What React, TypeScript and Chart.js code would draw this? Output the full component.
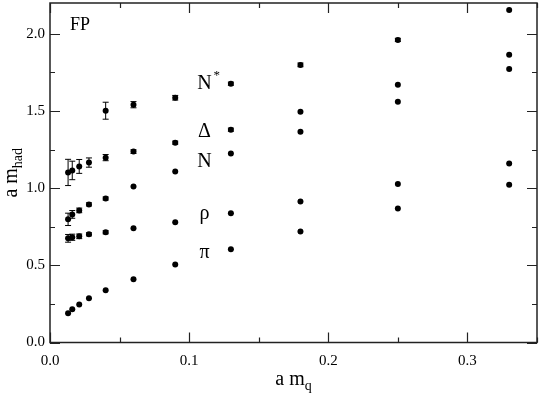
import { useEffect, useRef } from 'react';
import { Chart, registerables } from 'chart.js';

Chart.register(...registerables);

const FONT = '"Liberation Serif", "Times New Roman", Times, serif';
Chart.defaults.font.family = FONT;

// quark masses (a m_q)
const xs = [0.013, 0.016, 0.021, 0.028, 0.040, 0.060, 0.090, 0.130, 0.180, 0.250, 0.330];
const xsNstar = [0.040, 0.060, 0.090, 0.130, 0.180, 0.250, 0.330];

// hadron masses (a m_had) and errors
const piMass = [0.189, 0.215, 0.247, 0.286, 0.339, 0.410, 0.505, 0.604, 0.720, 0.869, 1.023];
const piErr = [0.004, 0.004, 0.003, 0.003, 0.003, 0.002, 0.002, 0.002, 0.002, 0.002, 0.002];
const rhoMass = [0.675, 0.682, 0.688, 0.701, 0.714, 0.740, 0.779, 0.837, 0.914, 1.027, 1.160];
const rhoErr = [0.025, 0.02, 0.015, 0.01, 0.01, 0.006, 0.004, 0.004, 0.003, 0.003, 0.003];
const nucMass = [0.798, 0.830, 0.856, 0.895, 0.933, 1.011, 1.108, 1.224, 1.366, 1.560, 1.773];
const nucErr = [0.04, 0.025, 0.015, 0.01, 0.01, 0.006, 0.005, 0.005, 0.004, 0.004, 0.004];
const deltaMass = [1.102, 1.115, 1.141, 1.166, 1.198, 1.237, 1.295, 1.379, 1.496, 1.670, 1.864];
const deltaErr = [0.085, 0.06, 0.045, 0.03, 0.02, 0.012, 0.01, 0.01, 0.008, 0.008, 0.008];
const nstarMass = [1.502, 1.541, 1.586, 1.677, 1.799, 1.961, 2.154];
const nstarErr = [0.055, 0.02, 0.015, 0.01, 0.012, 0.01, 0.008];

const xTicks = [0, 0.05, 0.1, 0.15, 0.2, 0.25, 0.3, 0.35];
const yTicks = [0, 0.25, 0.5, 0.75, 1.0, 1.25, 1.5, 1.75, 2.0];

const isMajorX = (v: number) => Math.abs(v * 10 - Math.round(v * 10)) < 1e-6;
const isMajorY = (v: number) => Math.abs(v * 2 - Math.round(v * 2)) < 1e-6;

const framePlugin = {
  id: 'frame',
  afterDatasetsDraw(chart: any) {
    const { ctx, scales } = chart;
    const xs_ = scales.x;
    const ys_ = scales.y;
    ctx.save();
    ctx.strokeStyle = '#000';
    ctx.lineWidth = 1;
    chart.data.datasets.forEach((ds: any) => {
      ds.data.forEach((p: any) => {
        if (!p.e) return;
        const px = xs_.getPixelForValue(p.x);
        const y1 = ys_.getPixelForValue(p.y + p.e);
        const y2 = ys_.getPixelForValue(p.y - p.e);
        if (y2 - y1 < 3) return;
        ctx.beginPath();
        ctx.moveTo(px, y1);
        ctx.lineTo(px, y2);
        ctx.moveTo(px - 3, y1);
        ctx.lineTo(px + 3, y1);
        ctx.moveTo(px - 3, y2);
        ctx.lineTo(px + 3, y2);
        ctx.stroke();
      });
    });
    ctx.restore();
  },
  afterDraw(chart: any) {
    const { ctx, chartArea, scales } = chart;
    const { left, right, top, bottom } = chartArea;
    const sx = scales.x;
    const sy = scales.y;
    ctx.save();
    ctx.strokeStyle = '#222';
    ctx.lineWidth = 1.5;
    ctx.strokeRect(left, top, right - left, bottom - top);
    ctx.beginPath();
    xTicks.forEach((v) => {
      const px = Math.round(sx.getPixelForValue(v)) + 0.5;
      const len = isMajorX(v) ? 10 : 5;
      ctx.moveTo(px, bottom);
      ctx.lineTo(px, bottom - len);
      ctx.moveTo(px, top);
      ctx.lineTo(px, top + len);
    });
    yTicks.forEach((v) => {
      const py = Math.round(sy.getPixelForValue(v)) + 0.5;
      const len = isMajorY(v) ? 10 : 5;
      ctx.moveTo(left, py);
      ctx.lineTo(left + len, py);
      ctx.moveTo(right, py);
      ctx.lineTo(right - len, py);
    });
    ctx.lineWidth = 1.2;
    ctx.stroke();

    ctx.fillStyle = '#000';
    ctx.textBaseline = 'alphabetic';

    // FP label
    ctx.font = `18px ${FONT}`;
    ctx.textAlign = 'left';
    ctx.fillText('FP', left + 20, top + 27);

    // particle labels
    const lx = sx.getPixelForValue(0.111);
    ctx.font = `20px ${FONT}`;
    ctx.textAlign = 'center';
    ctx.fillText('N', lx, sy.getPixelForValue(1.644));
    ctx.font = `13px ${FONT}`;
    ctx.textAlign = 'left';
    ctx.fillText('*', lx + 9, sy.getPixelForValue(1.644) - 10);
    ctx.font = `20px ${FONT}`;
    ctx.textAlign = 'center';
    ctx.fillText('\u0394', lx, sy.getPixelForValue(1.334));
    ctx.fillText('N', lx, sy.getPixelForValue(1.140));
    ctx.fillText('\u03C1', lx, sy.getPixelForValue(0.798));
    ctx.fillText('\u03C0', lx, sy.getPixelForValue(0.546));

    // x title
    const cx = (left + right) / 2;
    ctx.font = `20px ${FONT}`;
    const w1 = ctx.measureText('a m').width;
    ctx.font = `14px ${FONT}`;
    const w2 = ctx.measureText('q').width;
    const sx0 = cx - (w1 + w2) / 2;
    ctx.textAlign = 'left';
    ctx.font = `20px ${FONT}`;
    ctx.fillText('a m', sx0, 385);
    ctx.font = `14px ${FONT}`;
    ctx.fillText('q', sx0 + w1, 390);

    // y title
    const cy = (top + bottom) / 2;
    ctx.translate(17, cy);
    ctx.rotate(-Math.PI / 2);
    ctx.font = `20px ${FONT}`;
    const v1 = ctx.measureText('a m').width;
    ctx.font = `14px ${FONT}`;
    const v2 = ctx.measureText('had').width;
    const s0 = -(v1 + v2) / 2;
    ctx.font = `20px ${FONT}`;
    ctx.fillText('a m', s0, 0);
    ctx.font = `14px ${FONT}`;
    ctx.fillText('had', s0 + v1, 5);
    ctx.restore();
  },
};

const zeroPad = (scale: any) => {
  scale.paddingTop = 0;
  scale.paddingBottom = 0;
  scale.paddingLeft = 0;
  scale.paddingRight = 0;
};

function App() {
  const ref = useRef<HTMLCanvasElement>(null);
  useEffect(() => {
    document.body.style.margin = '0';
    const canvas = ref.current;
    if (!canvas) return;
    const mk = (xv: number[], yv: number[], ev: number[]) =>
      xv.map((x, i) => ({ x, y: yv[i], e: ev[i] }));
    const series = [
      { label: 'pi', data: mk(xs, piMass, piErr) },
      { label: 'rho', data: mk(xs, rhoMass, rhoErr) },
      { label: 'N', data: mk(xs, nucMass, nucErr) },
      { label: 'Delta', data: mk(xs, deltaMass, deltaErr) },
      { label: 'Nstar', data: mk(xsNstar, nstarMass, nstarErr) },
    ];
    const chart = new Chart(canvas, {
      type: 'scatter',
      data: {
        datasets: series.map((s) => ({
          label: s.label,
          data: s.data,
          pointRadius: 3,
          pointHoverRadius: 3,
          pointBackgroundColor: '#000',
          pointBorderColor: '#000',
          pointBorderWidth: 0,
          showLine: false,
        })),
      },
      options: {
        animation: false,
        responsive: false,
        devicePixelRatio: 1,
        events: [],
        layout: { padding: { left: 0, right: 1, top: 2, bottom: 0 } },
        plugins: { legend: { display: false }, tooltip: { enabled: false } },
        scales: {
          x: {
            type: 'linear',
            min: 0,
            max: 0.35,
            grid: { display: false, drawTicks: false },
            border: { display: false },
            afterBuildTicks: (scale: any) => {
              scale.ticks = xTicks.map((v) => ({ value: v }));
            },
            afterFit: (scale: any) => {
              scale.height = 54.5;
              zeroPad(scale);
            },
            ticks: {
              autoSkip: false,
              maxRotation: 0,
              padding: 10,
              color: '#000',
              font: { family: FONT, size: 15 },
              callback: (v: any) => (isMajorX(v) && v < 0.34 ? Number(v).toFixed(1) : ''),
            },
          },
          y: {
            type: 'linear',
            min: 0,
            max: 2.2,
            grid: { display: false, drawTicks: false },
            border: { display: false },
            afterBuildTicks: (scale: any) => {
              scale.ticks = yTicks.map((v) => ({ value: v }));
            },
            afterFit: (scale: any) => {
              scale.width = 50;
              zeroPad(scale);
            },
            ticks: {
              autoSkip: false,
              padding: 5,
              color: '#000',
              font: { family: FONT, size: 15 },
              callback: (v: any) => (isMajorY(v) ? Number(v).toFixed(1) : ''),
            },
          },
        },
      },
      plugins: [framePlugin],
    });
    return () => chart.destroy();
  }, []);
  return <canvas ref={ref} width={540} height={397} style={{ display: 'block' }} />;
}

export default App;
